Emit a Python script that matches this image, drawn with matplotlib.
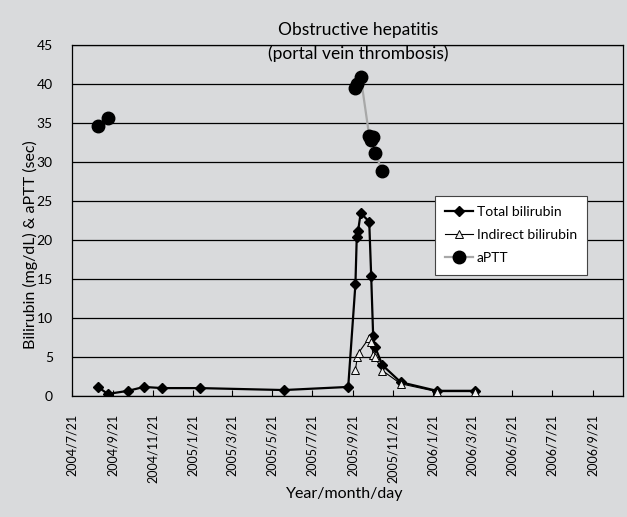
import matplotlib
matplotlib.use("Agg")
import matplotlib.pyplot as plt
import numpy as np
import pandas as pd

# --- Data ---
tb_dates = ["2004-08-29", "2004-09-13", "2004-10-14", "2004-11-07", "2004-12-05",
            "2005-02-01", "2005-06-08", "2005-09-14", "2005-09-25", "2005-09-27",
            "2005-09-29", "2005-10-03", "2005-10-16", "2005-10-19", "2005-10-22",
            "2005-10-25", "2005-11-05", "2005-12-03", "2006-01-27", "2006-03-26"]
tb_values = [1.1, 0.2, 0.6, 1.1, 0.95, 0.95, 0.7, 1.1, 14.3, 20.3,
             21.1, 23.4, 22.3, 15.3, 7.6, 6.2, 3.9, 1.7, 0.6, 0.6]

ib_dates = ["2005-09-25", "2005-09-28", "2005-09-30", "2005-10-16", "2005-10-19",
            "2005-10-22", "2005-10-25", "2005-11-05", "2005-12-03", "2006-01-27",
            "2006-03-26"]
ib_values = [3.3, 5.0, 5.5, 7.4, 6.8, 5.2, 4.9, 3.2, 1.5, 0.5, 0.5]

# NaN splits the early and late aPTT runs
aptt_dates = ["2004-08-29", "2004-09-13", "2005-01-01", "2005-09-25", "2005-09-28",
              "2005-10-03", "2005-10-16", "2005-10-19", "2005-10-22", "2005-10-25",
              "2005-11-05"]
aptt_values = [34.6, 35.6, np.nan, 39.5, 40.0, 40.9, 33.3, 32.8, 33.2, 31.1, 28.8]

x_start, x_end = "2004-07-21", "2006-11-06"
tick_dates = pd.date_range("2004-07-21", "2006-09-21", freq=pd.DateOffset(months=2))
tick_labels = [f"{d.year}/{d.month}/{d.day}" for d in tick_dates]

BG = "#d9dadc"
plt.rcParams["font.family"] = ["Lato", "DejaVu Sans"]

fig = plt.figure(figsize=(6.27, 5.17), dpi=100, facecolor=BG)
ax = fig.add_axes([0.1153, 0.235, 0.878, 0.6785], facecolor=BG)

ax.plot(pd.to_datetime(tb_dates), tb_values, color="black", lw=1.6,
        marker="D", ms=5.5, mfc="black", mec="black", label="Total bilirubin", zorder=3)
ax.plot(pd.to_datetime(ib_dates), ib_values, color="black", lw=0.8,
        marker="^", ms=5.5, mfc="#eeeeee", mec="black", mew=0.7,
        label="Indirect bilirubin", zorder=4)
ax.plot(pd.to_datetime(aptt_dates), aptt_values, color="#a8a8a8", lw=1.6,
        marker="o", ms=9, mfc="black", mec="black", label="aPTT", zorder=5)

ax.set_xlim(pd.Timestamp(x_start), pd.Timestamp(x_end))
ax.set_ylim(0, 45)
ax.set_yticks(range(0, 46, 5))
ax.set_xticks(tick_dates)
ax.set_xticklabels(tick_labels, rotation=90, va="top", ha="center")
ax.grid(axis="y", color="black", lw=0.9)
ax.set_axisbelow(True)
ax.tick_params(axis="x", direction="in", length=4, pad=13, labelsize=9)
ax.tick_params(axis="y", direction="out", length=0, pad=14, labelsize=10)
for s in ax.spines.values():
    s.set_color("black")
    s.set_linewidth(0.9)

fig.text(0.571, 1 - 30 / 517, "Obstructive hepatitis", ha="center", va="center", fontsize=12.5)
fig.text(0.571, 1 - 54 / 517, "(portal vein thrombosis)", ha="center", va="center", fontsize=12.5)
fig.text(30 / 627, 1 - 245 / 517, "Bilirubin (mg/dL) & aPTT (sec)", rotation=90,
         ha="center", va="center", fontsize=11.5)
fig.text(345 / 627, 1 - 494 / 517, "Year/month/day", ha="center", va="center", fontsize=11.5)

leg = ax.legend(loc="upper left", bbox_to_anchor=(0.658, 0.5696), borderaxespad=0,
                fontsize=10, handlelength=2.0, labelspacing=0.8, borderpad=0.75,
                handletextpad=0.3, fancybox=False, framealpha=1, edgecolor="#444444")
leg.get_frame().set_linewidth(0.8)

fig.savefig("out.png", dpi=100, facecolor=BG)
